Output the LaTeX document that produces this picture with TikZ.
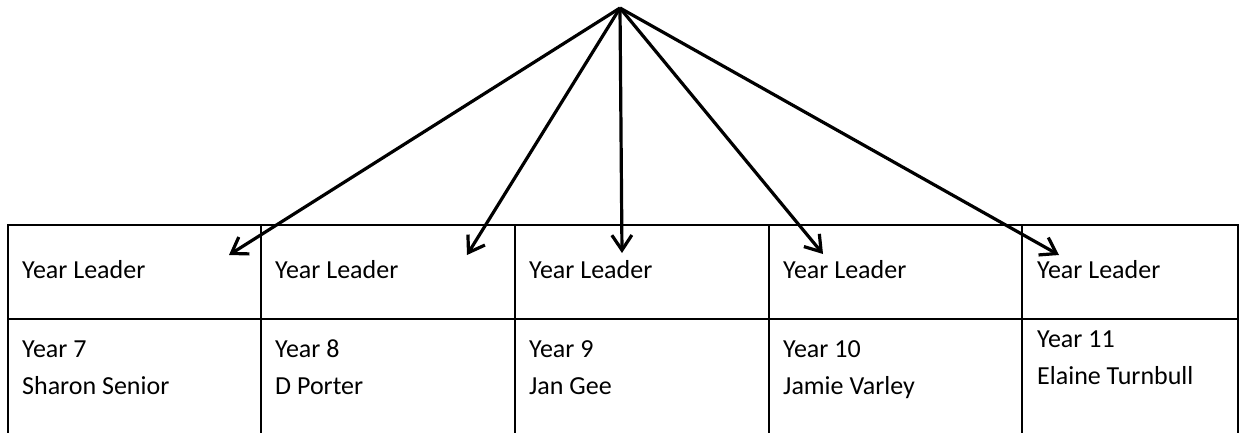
\documentclass[tikz,border=0pt]{standalone}
\usepackage{fontspec}
\setmainfont{Carlito}
\usetikzlibrary{arrows.meta}
\tikzset{cell/.style={anchor=base west,font=\fontsize{26}{31}\selectfont,inner sep=0pt}}
\tikzset{leader/.style={-{Straight Barb[length=15pt,width=20pt]},line width=3.2pt}}

\begin{document}
\begin{tikzpicture}[x=1pt,y=-1pt]
\useasboundingbox (0,0) rectangle (1240,432);

% table lines
\draw[line width=2.5pt] (7,225) -- (1239,225);
\draw[line width=2pt] (7,319) -- (1239,319);
\draw[line width=2pt] (8,225) -- (8,433);
\draw[line width=2pt] (261,225) -- (261,433);
\draw[line width=2pt] (515,225) -- (515,433);
\draw[line width=2pt] (769,225) -- (769,433);
\draw[line width=2pt] (1022,225) -- (1022,433);
\draw[line width=2pt] (1238,225) -- (1238,433);

% top row
\node[cell] (lead7) at (22,278) {Year Leader};
\node[cell] (lead8) at (275,278) {Year Leader};
\node[cell] (lead9) at (529,278) {Year Leader};
\node[cell] (lead10) at (783,278) {Year Leader};
\node[cell] (lead11) at (1037,278) {Year Leader};

% bottom row
\node[cell] (year7) at (22,357) {Year 7};
\node[cell] (name7) at (22,394) {Sharon Senior};
\node[cell] (year8) at (275,357) {Year 8};
\node[cell] (name8) at (275,394) {D Porter};
\node[cell] (year9) at (529,357) {Year 9};
\node[cell] (name9) at (529,394) {Jan Gee};
\node[cell] (year10) at (783,357) {Year 10};
\node[cell] (name10) at (783,394) {Jamie Varley};
\node[cell] (year11) at (1037,347) {Year 11};
\node[cell] (name11) at (1037,384) {Elaine Turnbull};

% arrows
\coordinate (apex) at (620,8);
\coordinate (tip7) at (229,255);
\coordinate (tip8) at (467,255);
\coordinate (tip9) at (622,253);
\coordinate (tip10) at (823,254);
\coordinate (tip11) at (1059,255);

\draw[leader] (apex) -- (tip7);
\draw[leader] (apex) -- (tip8);
\draw[leader] (apex) -- (tip9);
\draw[leader] (apex) -- (tip10);
\draw[leader] (apex) -- (tip11);
\end{tikzpicture}
\end{document}
